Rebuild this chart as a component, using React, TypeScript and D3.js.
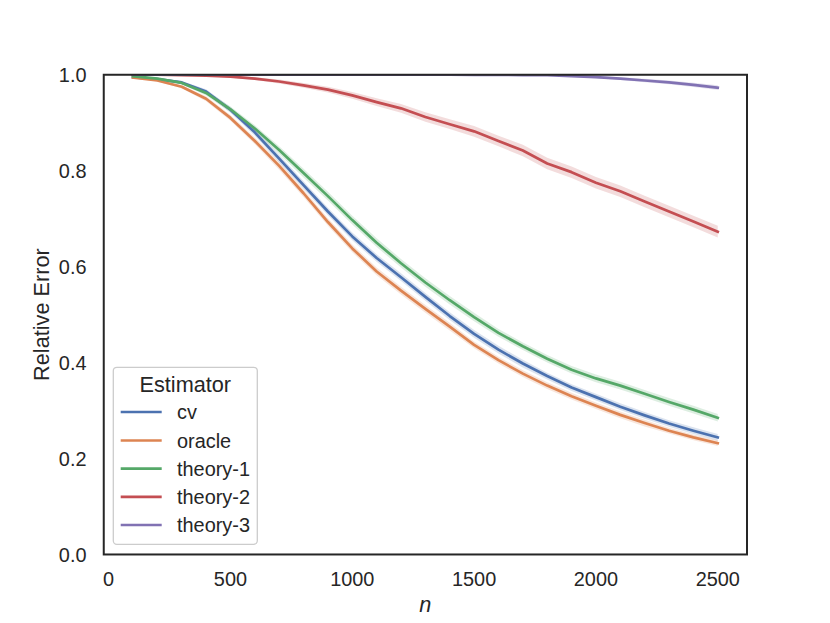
import * as d3 from "d3";

// sample sizes
const nValues = [100, 200, 300, 400, 500, 600, 700, 800, 900, 1000, 1100, 1200, 1300,
  1400, 1500, 1600, 1700, 1800, 1900, 2000, 2100, 2200, 2300, 2400, 2500];

const estimators = ["cv", "oracle", "theory-1", "theory-2", "theory-3"];

// mean relative error per estimator
const cvMean = [0.995, 0.991, 0.984, 0.965, 0.927, 0.88, 0.825, 0.77, 0.715, 0.663, 0.618, 0.578, 0.537,
  0.497, 0.46, 0.427, 0.398, 0.372, 0.348, 0.328, 0.308, 0.29, 0.273, 0.258, 0.244];
const oracleMean = [0.994, 0.988, 0.975, 0.95, 0.91, 0.862, 0.81, 0.753, 0.693, 0.638, 0.59, 0.55, 0.512,
  0.475, 0.437, 0.405, 0.377, 0.352, 0.33, 0.31, 0.291, 0.274, 0.258, 0.244, 0.232];
const theory1Mean = [0.997, 0.992, 0.983, 0.962, 0.928, 0.888, 0.843, 0.795, 0.747, 0.697, 0.65, 0.607, 0.567,
  0.53, 0.495, 0.462, 0.434, 0.408, 0.385, 0.367, 0.352, 0.335, 0.318, 0.302, 0.285];
const theory2Mean = [1.0, 1.0, 0.999, 0.998, 0.996, 0.992, 0.986, 0.978, 0.969, 0.957, 0.943, 0.93, 0.912,
  0.897, 0.882, 0.862, 0.842, 0.815, 0.797, 0.775, 0.757, 0.736, 0.715, 0.694, 0.673];
const theory3Mean = [1.0, 1.0, 1.0, 1.0, 1.0, 1.0, 1.0, 1.0, 1.0, 1.0, 1.0, 1.0, 1.0,
  1.0, 0.9998, 0.9996, 0.9993, 0.999, 0.997, 0.995, 0.992, 0.988, 0.984, 0.979, 0.973];

// half-width of the 95% confidence band
const cvCi = [0.001, 0.002, 0.003, 0.005, 0.006, 0.007, 0.008, 0.008, 0.008, 0.008, 0.008, 0.008, 0.008,
  0.008, 0.008, 0.008, 0.008, 0.007, 0.007, 0.007, 0.007, 0.007, 0.007, 0.007, 0.007];
const oracleCi = [0.001, 0.002, 0.003, 0.005, 0.006, 0.007, 0.008, 0.008, 0.008, 0.008, 0.008, 0.008, 0.008,
  0.008, 0.007, 0.007, 0.007, 0.007, 0.007, 0.007, 0.007, 0.007, 0.006, 0.006, 0.006];
const theory1Ci = [0.001, 0.002, 0.003, 0.005, 0.006, 0.007, 0.008, 0.009, 0.009, 0.009, 0.009, 0.009, 0.009,
  0.009, 0.009, 0.008, 0.008, 0.008, 0.008, 0.008, 0.008, 0.008, 0.008, 0.008, 0.008];
const theory2Ci = [0.0, 0.0, 0.001, 0.001, 0.002, 0.003, 0.004, 0.005, 0.006, 0.007, 0.008, 0.009, 0.01,
  0.01, 0.011, 0.011, 0.012, 0.012, 0.012, 0.012, 0.012, 0.012, 0.012, 0.012, 0.012];
const theory3Ci = [0.0, 0.0, 0.0, 0.0, 0.0, 0.0, 0.0, 0.0, 0.0, 0.0, 0.0, 0.0, 0.0,
  0.0, 0.0005, 0.0007, 0.001, 0.0013, 0.0018, 0.0024, 0.003, 0.0035, 0.004, 0.0045, 0.005];

const xTicks = [0, 500, 1000, 1500, 2000, 2500];
const yTicks = [0.0, 0.2, 0.4, 0.6, 0.8, 1.0];

const means = [cvMean, oracleMean, theory1Mean, theory2Mean, theory3Mean];
const cis = [cvCi, oracleCi, theory1Ci, theory2Ci, theory3Ci];
const colors = ["#4c72b0", "#dd8452", "#55a868", "#c44e52", "#8172b3"];

const W = 830;
const H = 623;
const left = 103.75;
const right = 747;
const top = 74.76;
const bottom = 554.47;
const font = "'Liberation Sans', Arial, sans-serif";
const ink = "#262626";
const tickSize = 19.9;
const labelSize = 21.7;
const lw = 2.7;

export default function App() {
  const x = d3.scaleLinear().domain([-20, 2620]).range([left, right]);
  const y = d3.scaleLinear().domain([0, 1]).range([bottom, top]);

  const line = d3.line<number>()
    .x((_, i) => x(nValues[i]))
    .y(d => y(d));

  const band = (m: number[], c: number[]) =>
    d3.area<number>()
      .x((_, i) => x(nValues[i]))
      .y0((d, i) => y(d - c[i]))
      .y1((d, i) => y(d + c[i]))(m) as string;

  const legX = 113.3;
  const legY = 367.3;
  const rowY = [412, 440.5, 468.7, 496.8, 525];

  return (
    <svg width={W} height={H} style={{ position: "absolute", left: 0, top: 0 }} fontFamily={font}>
      <rect width={W} height={H} fill="#fff" />
      <defs>
        <clipPath id="plot">
          <rect x={left} y={top} width={right - left} height={bottom - top} />
        </clipPath>
      </defs>

      <g clipPath="url(#plot)">
        {means.map((m, k) => (
          <path key={"b" + k} d={band(m, cis[k])} fill={colors[k]} fillOpacity={0.2} stroke="none" />
        ))}
        {means.map((m, k) => (
          <path key={"l" + k} d={line(m) as string} fill="none" stroke={colors[k]}
            strokeWidth={lw} strokeLinejoin="round" strokeLinecap="square" />
        ))}
      </g>

      <rect x={left} y={top} width={right - left} height={bottom - top}
        fill="none" stroke={ink} strokeWidth={2} />

      {xTicks.map(t => (
        <text key={"x" + t} x={x(t)} y={586} textAnchor="middle" fontSize={tickSize} fill={ink}>{t}</text>
      ))}
      {yTicks.map(t => (
        <text key={"y" + t} x={86.5} y={y(t) + 7.1} textAnchor="end" fontSize={tickSize} fill={ink}>{t.toFixed(1)}</text>
      ))}

      <text x={(left + right) / 2} y={612} textAnchor="middle" fontSize={labelSize} fontStyle="italic" fill={ink}>n</text>
      <text transform={`translate(49,${(top + bottom) / 2}) rotate(-90)`} textAnchor="middle"
        fontSize={labelSize} fill={ink}>Relative Error</text>

      <rect x={legX} y={legY} width={144} height={177} rx={3.5} fill="#fff" fillOpacity={0.8}
        stroke="#cccccc" strokeWidth={1.3} />
      <text x={legX + 72} y={391.8} textAnchor="middle" fontSize={labelSize} fill={ink}>Estimator</text>
      {estimators.map((e, k) => (
        <g key={e}>
          <line x1={120.7} x2={161.7} y1={rowY[k]} y2={rowY[k]} stroke={colors[k]} strokeWidth={lw} />
          <text x={177} y={rowY[k] + 7.1} fontSize={tickSize} fill={ink}>{e}</text>
        </g>
      ))}
    </svg>
  );
}
